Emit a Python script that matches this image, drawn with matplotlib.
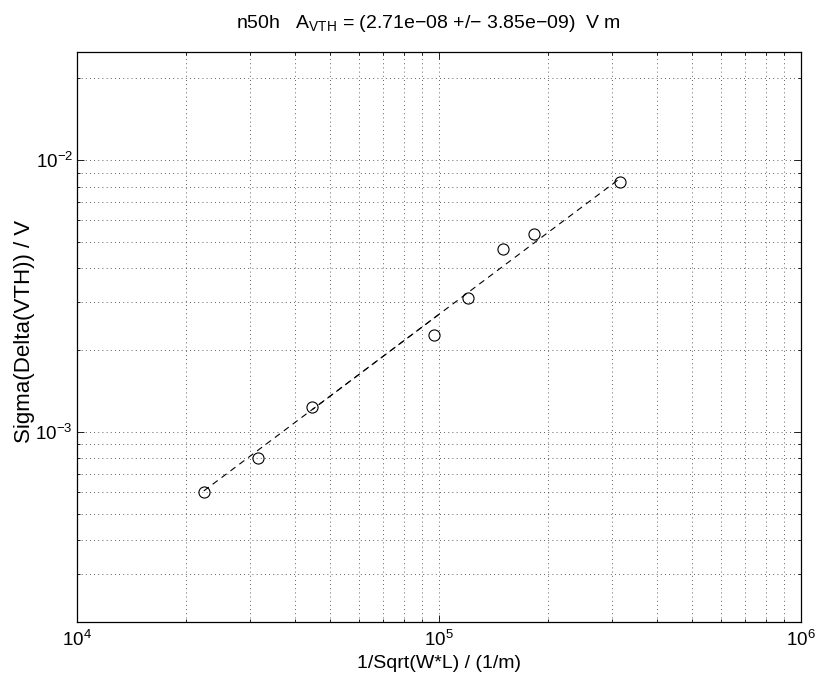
import matplotlib
matplotlib.use("Agg")
import matplotlib.pyplot as plt
import numpy as np

plt.rcParams['font.family'] = ['Liberation Sans', 'DejaVu Sans']
plt.rcParams['mathtext.fontset'] = 'custom'
plt.rcParams['mathtext.rm'] = 'Liberation Sans'
plt.rcParams['mathtext.it'] = 'Liberation Sans:italic'
plt.rcParams['mathtext.bf'] = 'Liberation Sans:bold'
plt.rcParams['lines.scale_dashes'] = False

# Data
x_meas = [22400, 31600, 44700, 97000, 120000, 150000, 183000, 316000]
y_meas = [6.04e-4, 8.0e-4, 1.24e-3, 2.27e-3, 3.1e-3, 4.71e-3, 5.36e-3, 8.28e-3]
x_fit = [22400, 316000]
y_fit = [6.07e-4, 8.56e-3]
x_fit2 = [44700, 100000]
y_fit2 = [1.21e-3, 2.71e-3]

title = r'n50h   A$_{\mathrm{VTH}}$ = (2.71e−08 +/− 3.85e−09)  V m'
xlabel = '1/Sqrt(W*L) / (1/m)'
ylabel = 'Sigma(Delta(VTH)) / V'

fig = plt.figure(figsize=(8.18, 6.82), dpi=100)
ax = fig.add_axes([77/818, 60/682, 724/818, 570/682])

ax.set_xscale('log')
ax.set_yscale('log')
ax.set_xlim(1e4, 1e6)
ax.set_ylim(2e-4, 2.5e-2)

ax.plot(x_fit, y_fit, color='black', linewidth=0.8, linestyle=(0, (4.5, 3.5)))
ax.plot(x_fit2, y_fit2, color='black', linewidth=0.8, linestyle=(2.5, (4.5, 3.5)))
ax.plot(x_meas, y_meas, linestyle='none', marker='o', markersize=8,
        markerfacecolor='none', markeredgecolor='black', markeredgewidth=0.8)

ax.grid(True, which='both', color='black', linestyle=(0, (0.6, 2.4)), linewidth=0.5)
ax.tick_params(which='both', direction='in', top=True, right=True, labelsize=13.5)
ax.tick_params(which='major', length=5, width=0.6)
ax.tick_params(axis='x', which='major', pad=6)
ax.tick_params(axis='y', which='major', pad=3)
ax.tick_params(which='minor', length=2.5, width=0.6)
for s in ax.spines.values():
    s.set_linewidth(0.9)

ax.set_title(title, fontsize=14, pad=17, x=0.485)
ax.set_xlabel(xlabel, fontsize=14, labelpad=3)
ax.set_ylabel(ylabel, fontsize=16, labelpad=0)
ax.yaxis.label.set_y(0.51)

fig.savefig('out.png', dpi=100)
